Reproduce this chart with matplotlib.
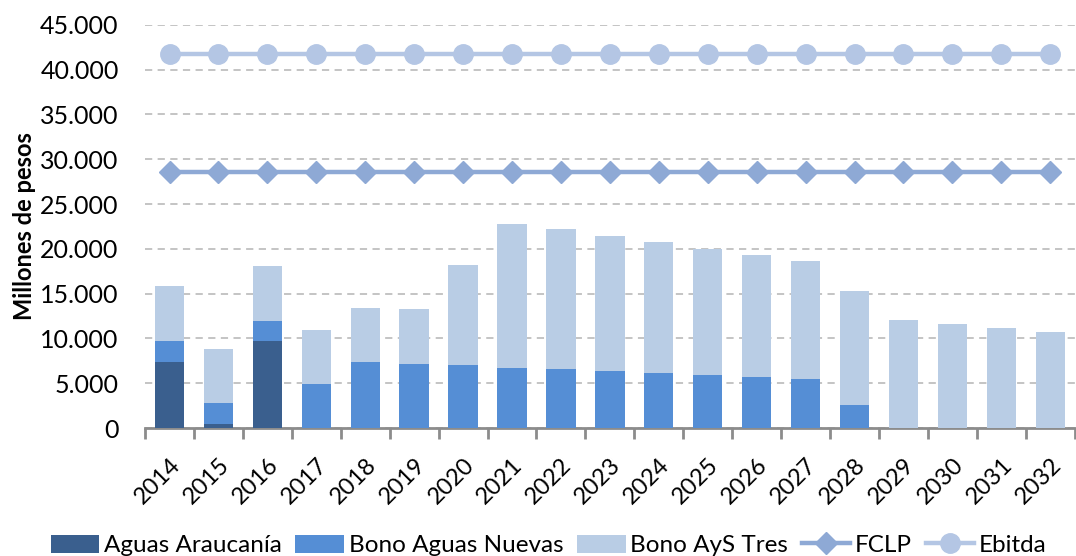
import matplotlib
matplotlib.use("Agg")
import matplotlib.pyplot as plt
import numpy as np
from matplotlib.ticker import FuncFormatter, MultipleLocator, FixedLocator

years = [str(y) for y in range(2014, 2033)]
aguas_araucania = [7400, 410, 9680, 0, 0, 0, 0, 0, 0, 0, 0, 0, 0, 0, 0, 0, 0, 0, 0]
bono_aguas_nuevas = [2340, 2380, 2300, 4910, 7400, 7180, 7000, 6750, 6550, 6330,
                     6140, 5915, 5690, 5470, 2600, 0, 0, 0, 0]
bono_ays_tres = [6110, 6030, 6070, 6030, 6030, 6070, 11190, 16020, 15620, 15100,
                 14580, 14095, 13650, 13170, 12690, 12100, 11650, 11150, 10700]
fclp = [28600] * 19
ebitda = [41700] * 19

plt.rcParams['font.family'] = ['Lato', 'DejaVu Sans']

fig = plt.figure(figsize=(10.76, 5.56), dpi=100)
ax = fig.add_axes([0.1348, 0.2302, 0.864, 0.725])

x = np.arange(len(years))
w = 0.6
c1, c2, c3 = '#3A5F8E', '#558ED5', '#B9CDE5'
b1 = ax.bar(x, aguas_araucania, w, color=c1, linewidth=0, label='Aguas Araucanía', zorder=3)
bottom2 = np.array(aguas_araucania)
b2 = ax.bar(x, bono_aguas_nuevas, w, bottom=bottom2, color=c2, linewidth=0, label='Bono Aguas Nuevas', zorder=3)
bottom3 = bottom2 + np.array(bono_aguas_nuevas)
b3 = ax.bar(x, bono_ays_tres, w, bottom=bottom3, color=c3, linewidth=0, label='Bono AyS Tres', zorder=3)
l1, = ax.plot(x, fclp, color='#8EA9D5', lw=3.2, marker='D', markersize=11, label='FCLP', zorder=4)
l2, = ax.plot(x, ebitda, color='#B4C6E4', lw=3.2, marker='o', markersize=14, label='Ebitda', zorder=4)

ax.set_xlim(-0.5, len(years) - 0.5)
ax.set_ylim(0, 45000)
ax.yaxis.set_major_locator(MultipleLocator(5000))
ax.yaxis.set_major_formatter(FuncFormatter(lambda v, p: f"{int(v):,}".replace(",", ".")))
ax.grid(axis='y', color='#BFBFBF', linestyle=(0, (4, 3)), linewidth=1.3, zorder=0)
ax.set_axisbelow(True)
for s in ['top', 'right', 'left']:
    ax.spines[s].set_visible(False)
ax.spines['bottom'].set_color('#8C8C8C')
ax.spines['bottom'].set_linewidth(2)
ax.tick_params(axis='y', length=0, labelsize=18, pad=19)
ax.set_xticks(x)
ax.set_xticklabels(years, rotation=45, ha='right', rotation_mode='anchor', fontsize=17)
ax.tick_params(axis='x', which='major', length=0, pad=19)
ax.xaxis.set_minor_locator(FixedLocator(np.arange(-0.5, len(years), 1.0)))
ax.tick_params(axis='x', which='minor', length=8, width=2, color='#8C8C8C')
ax.set_ylabel('Millones de pesos', fontsize=17, fontweight='bold')
ax.yaxis.set_label_coords(-0.117, 0.5)

fig.legend(handles=[b1, b2, b3, l1, l2], loc='lower center', ncol=5, frameon=False,
           fontsize=17.5, bbox_to_anchor=(0.51, -0.04), handlelength=2.0, handleheight=0.8,
           columnspacing=0.55, handletextpad=0.2)

fig.savefig('out.png', dpi=100)
